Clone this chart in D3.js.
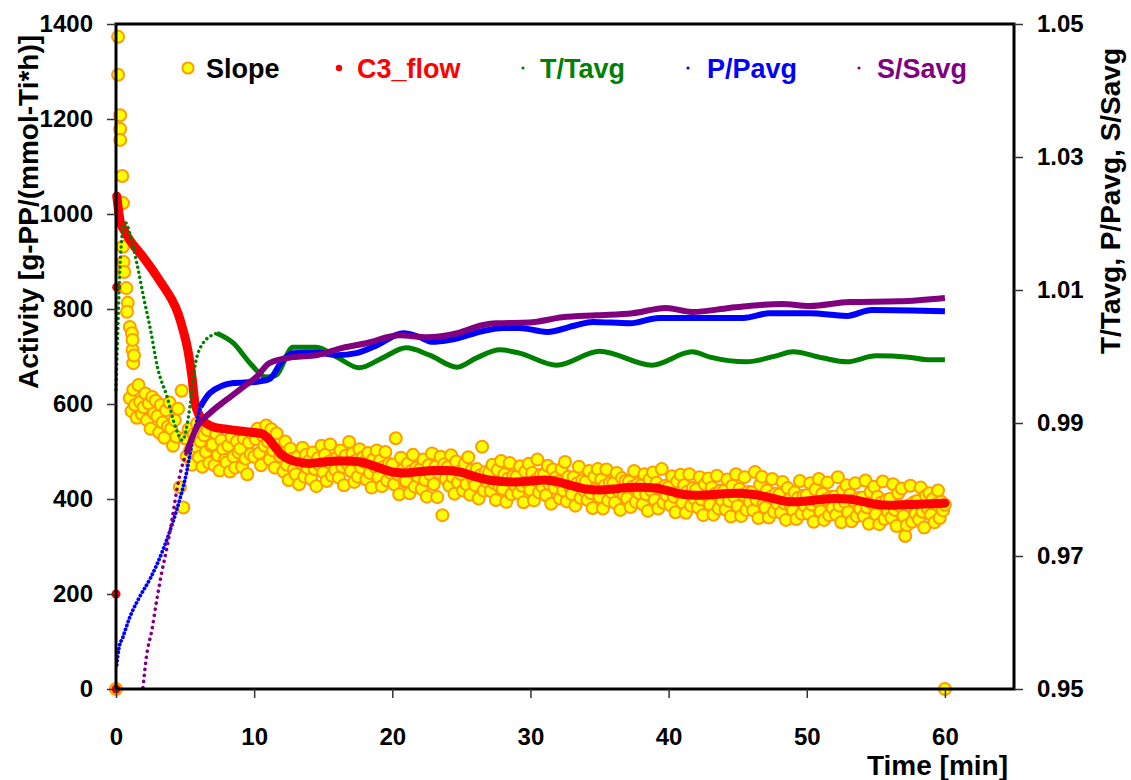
<!DOCTYPE html>
<html>
<head>
<meta charset="utf-8">
<script src="https://cdn.jsdelivr.net/npm/d3@7"></script>
<style>
body { margin: 0; background: #fff; }
text { font-family: "Liberation Sans", Arial, sans-serif; font-weight: bold; }
</style>
</head>
<body>
<div id="chart"></div>
<script>
// tick values
var timeTicks = [0, 10, 20, 30, 40, 50, 60];
var activityTicks = [0, 200, 400, 600, 800, 1000, 1200, 1400];
var ratioTicks = [0.95, 0.97, 0.99, 1.01, 1.03, 1.05];

// Slope: first scattered readings (time, activity)
var slopeEarlyT = [0, 0.15, 0.15, 0.3, 0.3, 0.3, 0.45, 0.5, 0.5, 0.55, 0.6, 0.75, 0.85, 0.8, 1.0, 1.15, 1.2, 1.25, 1.2, 1.3, 60];
var slopeEarlyV = [0, 1373, 1293, 1208, 1179, 1156, 1080, 1023, 931, 899, 878, 844, 813, 794, 762, 749, 714, 686, 735, 702, 0];

// Slope: regular readings from 1 min, every 0.125 min (one row = one minute)
var slopeStart = 1;
var slopeStep = 0.125;
var slopeValues = [
  612,585,630,598,571,640,604,579,
  593,622,566,601,548,615,580,607,
  574,540,598,561,529,587,552,603,
  548,512,566,531,590,425,628,382,
  528,490,547,503,472,536,511,559,
  488,521,468,534,499,545,476,512,
  515,471,538,492,460,523,505,482,
  477,512,458,530,489,466,521,498,
  506,468,527,485,452,519,494,537,
  489,526,548,497,471,533,512,555,
  521,483,547,502,466,538,514,490,
  497,458,521,472,440,506,485,462,
  452,489,431,476,508,447,493,465,
  481,442,498,463,427,486,471,512,
  456,493,438,478,515,449,484,461,
  487,445,502,468,429,491,474,520,
  459,496,436,481,447,505,466,488,
  478,441,497,455,424,484,468,502,
  446,481,427,468,499,439,474,455,
  472,431,528,452,410,487,461,437,
  438,475,412,459,493,426,466,447,
  462,421,483,440,405,471,452,496,
  431,468,404,455,489,366,473,442,
  467,428,492,446,411,479,435,458,
  452,418,474,431,488,409,461,440,
  429,463,401,450,510,418,457,436,
  455,417,472,433,398,461,426,480,
  421,452,394,443,476,410,448,429,
  447,412,469,428,393,458,435,474,
  419,455,397,440,483,414,451,426,
  452,408,470,431,390,462,423,446,
  437,401,463,418,478,395,447,425,
  410,446,386,433,468,402,439,418,
  436,398,459,412,381,447,420,463,
  405,441,380,428,462,397,434,414,
  433,392,455,417,377,444,409,438,
  401,437,383,426,459,394,431,412,
  428,389,452,410,375,441,418,456,
  398,434,380,421,463,392,428,407,
  425,387,448,405,372,437,413,451,
  392,429,371,416,452,386,423,401,
  420,382,446,399,366,431,408,443,
  388,424,367,411,449,380,418,397,
  417,378,441,396,363,428,405,452,
  385,421,364,409,446,377,415,394,
  414,376,457,398,360,430,447,389,
  382,418,361,404,442,373,411,390,
  409,371,436,391,356,423,400,384,
  376,414,358,402,438,369,407,385,
  408,369,433,388,352,420,396,442,
  374,411,356,399,435,366,404,381,
  405,367,446,386,351,418,394,429,
  372,409,353,397,433,364,402,379,
  403,364,439,382,348,415,390,426,
  368,405,347,392,437,358,398,374,
  400,361,431,377,343,412,385,422,
  364,322,345,387,428,352,393,369,
  396,357,424,373,340,407,381,412,
  367,400,351,389,418,360,394,376,
  388
];

// C3_flow: stray first readings, then the main trace
var c3StrayT = [0, 0, 0.05];
var c3StrayV = [0, 200, 846];
var c3T = [0.05, 0.15, 0.3, 0.6, 1.0, 1.5, 2.0, 2.5, 3.0, 3.5, 4.0, 4.5, 4.85, 5.2, 5.5, 5.7, 6.0, 6.5, 7.0, 8.0, 9.0, 10.0, 10.6, 11.0, 11.5, 12.0, 12.5, 13.0, 14.0, 15.0, 16.0, 17.0, 18.0, 19.0, 20.0, 21.0, 22.0, 23.0, 24.0, 25.0, 26.0, 27.0, 28.0, 29.0, 30.0, 31.0, 32.0, 33.0, 34.0, 35.0, 36.0, 37.0, 38.0, 39.0, 40.0, 41.0, 42.0, 43.0, 44.0, 45.0, 46.0, 47.0, 48.0, 49.0, 50.0, 51.0, 52.0, 53.0, 54.0, 55.0, 56.0, 57.0, 58.0, 59.0, 60.0];
var c3V = [1038, 1015, 985, 965, 945, 926, 908, 888, 867, 845, 822, 790, 756, 714, 657, 605, 578, 560, 552, 547, 543, 540, 537, 528, 510, 493, 484, 479, 475, 478, 480, 480, 476, 466, 457, 455, 458, 460, 460, 456, 447, 440, 437, 436, 438, 440, 436, 428, 421, 419, 421, 424, 425, 423, 417, 410, 408, 409, 411, 412, 410, 405, 398, 394, 396, 399, 401, 400, 395, 389, 387, 388, 389, 390, 391];

// T/Tavg (right axis)
var tempT = [0.0, 0.15, 0.3, 0.5, 0.7, 1.0, 1.5, 2.0, 2.5, 3.0, 3.7, 4.3, 4.8, 5.35, 5.7, 6.3, 7.3, 8.5, 9.7, 10.9, 11.6, 12.8, 14.5, 16.0, 17.6, 19.3, 21.0, 22.7, 24.7, 26.1, 27.8, 29.2, 31.9, 35.0, 38.8, 41.7, 43.0, 45.6, 47.8, 49.0, 51.1, 52.9, 55.0, 57.4, 58.9, 60.0];
var tempV = [0.9950, 1.0050, 1.0140, 1.0190, 1.0201, 1.0185, 1.0141, 1.0089, 1.0040, 0.9984, 0.9939, 0.9894, 0.9874, 0.9924, 0.9984, 1.0020, 1.0035, 1.0020, 0.9990, 0.9969, 0.9972, 1.0014, 1.0014, 0.9999, 0.9983, 0.9998, 1.0013, 1.0002, 0.9984, 0.9998, 1.0010, 1.0005, 0.9987, 1.0008, 0.9987, 1.0007, 0.9999, 0.9992, 1.0001, 1.0007, 0.9998, 0.9992, 1.0001, 0.9999, 0.9995, 0.9995];

// P/Pavg (right axis)
var presT = [0.05, 0.2, 0.5, 1.0, 1.7, 2.5, 3.4, 4.1, 4.6, 5.1, 5.5, 6.1, 6.8, 8.5, 10.2, 11.1, 12.1, 12.8, 14.5, 16.0, 17.4, 18.9, 20.8, 22.0, 22.9, 24.2, 26.5, 28.0, 29.2, 31.2, 33.3, 34.5, 37.2, 39.3, 42.2, 45.4, 47.3, 50.2, 52.9, 54.7, 60.0];
var presV = [0.9536, 0.9560, 0.9578, 0.9608, 0.9638, 0.9667, 0.9709, 0.9750, 0.9784, 0.9825, 0.9870, 0.9924, 0.9945, 0.9960, 0.9962, 0.9966, 0.9995, 1.0005, 1.0006, 1.0002, 1.0005, 1.0017, 1.0035, 1.0029, 1.0022, 1.0025, 1.0038, 1.0043, 1.0043, 1.0037, 1.0047, 1.0052, 1.0050, 1.0058, 1.0058, 1.0058, 1.0065, 1.0065, 1.0061, 1.0070, 1.0068];

// S/Savg (right axis)
var stirT = [1.95, 2.2, 2.6, 2.95, 3.3, 3.7, 4.05, 4.4, 4.85, 5.1, 5.85, 6.8, 8.0, 9.2, 10.2, 11.1, 12.8, 14.5, 16.4, 18.1, 20.5, 22.5, 24.7, 26.5, 27.5, 29.9, 32.3, 34.8, 37.4, 39.8, 41.7, 44.4, 45.8, 48.2, 50.2, 53.1, 56.7, 60.0];
var stirV = [0.9502, 0.9548, 0.9589, 0.9634, 0.9674, 0.9714, 0.9754, 0.9799, 0.9840, 0.9855, 0.9894, 0.9915, 0.9935, 0.9954, 0.9970, 0.9990, 0.9999, 1.0002, 1.0013, 1.0020, 1.0032, 1.0029, 1.0035, 1.0047, 1.0050, 1.0051, 1.0059, 1.0062, 1.0065, 1.0073, 1.0067, 1.0073, 1.0076, 1.0079, 1.0076, 1.0082, 1.0083, 1.0088];

// ---- drawing ----
var W = 1131, H = 780;
var svg = d3.select("#chart").append("svg")
    .attr("width", W)
    .attr("height", H);

var x = d3.scaleLinear().domain([0, 65]).range([116, 1014]);
var yL = d3.scaleLinear().domain([0, 1400]).range([689, 24]);
var yR = d3.scaleLinear().domain([0.95, 1.05]).range([689, 24]);

function zip(ts, vs) {
    return ts.map(function (t, i) { return { t: t, v: vs[i] }; });
}

// slope scatter
var slopePts = zip(slopeEarlyT, slopeEarlyV).concat(slopeValues.map(function (v, i) {
    return { t: slopeStart + i * slopeStep, v: v };
}));

svg.append("g").selectAll("circle")
    .data(slopePts)
    .enter().append("circle")
    .attr("cx", function (d) { return x(d.t); })
    .attr("cy", function (d) { return yL(d.v); })
    .attr("r", 6)
    .attr("fill", "#ffff00")
    .attr("stroke", "#ff9c00")
    .attr("stroke-width", 2);

// C3_flow
var leftLine = d3.line()
    .x(function (d) { return x(d.t); })
    .y(function (d) { return yL(d.v); })
    .curve(d3.curveMonotoneX);

svg.append("path")
    .datum(zip(c3T, c3V))
    .attr("d", leftLine)
    .attr("fill", "none")
    .attr("stroke", "#ff0000")
    .attr("stroke-width", 9)
    .attr("stroke-linecap", "round")
    .attr("stroke-linejoin", "round");

svg.append("g").selectAll("circle")
    .data(zip(c3StrayT, c3StrayV))
    .enter().append("circle")
    .attr("cx", function (d) { return x(d.t); })
    .attr("cy", function (d) { return yL(d.v); })
    .attr("r", 4.5)
    .attr("fill", "#ff0000");

// ratio series: dotted where the samples spread out, solid afterwards
var rightLine = d3.line()
    .x(function (d) { return x(d.t); })
    .y(function (d) { return yR(d.v); })
    .curve(d3.curveMonotoneX);

var ratioSeries = [
    { pts: zip(tempT, tempV), color: "#008000", split: 7.3, width: 5, dot: 3.4, gap: 5 },
    { pts: zip(presT, presV), color: "#0000ff", split: 6.1, width: 6, dot: 3.8, gap: 4 },
    { pts: zip(stirT, stirV), color: "#800080", split: 5.1, width: 6, dot: 3.6, gap: 6 }
];

ratioSeries.forEach(function (s) {
    var early = s.pts.filter(function (d) { return d.t <= s.split; });
    var late = s.pts.filter(function (d) { return d.t >= s.split; });
    svg.append("path")
        .datum(early)
        .attr("d", rightLine)
        .attr("fill", "none")
        .attr("stroke", s.color)
        .attr("stroke-width", s.dot)
        .attr("stroke-linecap", "round")
        .attr("stroke-dasharray", "0.1," + s.gap);
    svg.append("path")
        .datum(late)
        .attr("d", rightLine)
        .attr("fill", "none")
        .attr("stroke", s.color)
        .attr("stroke-width", s.width)
        .attr("stroke-linejoin", "round");
});

// frame and axes
svg.append("rect")
    .attr("x", 116).attr("y", 24)
    .attr("width", 1014 - 116).attr("height", 689 - 24)
    .attr("fill", "none")
    .attr("stroke", "#000")
    .attr("stroke-width", 3);

var gx = svg.append("g")
    .attr("transform", "translate(0,689)")
    .call(d3.axisBottom(x).tickValues(timeTicks).tickSize(9).tickPadding(30));
var gl = svg.append("g")
    .attr("transform", "translate(116,0)")
    .call(d3.axisLeft(yL).tickValues(activityTicks).tickSize(9).tickPadding(14)
        .tickFormat(d3.format("d")));
var gr = svg.append("g")
    .attr("transform", "translate(1014,0)")
    .call(d3.axisRight(yR).tickValues(ratioTicks).tickSize(9).tickPadding(14)
        .tickFormat(d3.format(".2f")));

[gx, gl, gr].forEach(function (g) {
    g.select(".domain").remove();
    g.selectAll(".tick line").attr("stroke", "#333").attr("stroke-width", 1.5);
    g.selectAll(".tick text")
        .attr("fill", "#000")
        .style("font-size", "24px")
        .style("font-family", "'Liberation Sans', Arial, sans-serif")
        .style("font-weight", "bold");
});

// axis titles
svg.append("text")
    .attr("transform", "translate(38,212) rotate(-90)")
    .attr("text-anchor", "middle")
    .style("font-size", "28px")
    .text("Activity [g-PP/(mmol-Ti*h)]");

svg.append("text")
    .attr("transform", "translate(1120,201) rotate(-90)")
    .attr("text-anchor", "middle")
    .style("font-size", "28px")
    .text("T/Tavg, P/Pavg, S/Savg");

svg.append("text")
    .attr("x", 1008).attr("y", 775)
    .attr("text-anchor", "end")
    .style("font-size", "28px")
    .text("Time [min]");

// legend
var legend = [
    { name: "Slope", color: "#000", mx: 188, tx: 206, r: 5.6, fill: "#ffff00", stroke: "#ff9c00" },
    { name: "C3_flow", color: "#ff0000", mx: 339, tx: 357, r: 3.2, fill: "#ff0000", stroke: "none" },
    { name: "T/Tavg", color: "#008000", mx: 523, tx: 540, r: 1.6, fill: "#008000", stroke: "none" },
    { name: "P/Pavg", color: "#0000ff", mx: 688, tx: 707, r: 1.6, fill: "#0000ff", stroke: "none" },
    { name: "S/Savg", color: "#800080", mx: 859, tx: 877, r: 1.6, fill: "#800080", stroke: "none" }
];

var lg = svg.append("g").selectAll("g")
    .data(legend)
    .enter().append("g");

lg.append("circle")
    .attr("cx", function (d) { return d.mx; })
    .attr("cy", 68)
    .attr("r", function (d) { return d.r; })
    .attr("fill", function (d) { return d.fill; })
    .attr("stroke", function (d) { return d.stroke; })
    .attr("stroke-width", 2);

lg.append("text")
    .attr("x", function (d) { return d.tx; })
    .attr("y", 78)
    .attr("fill", function (d) { return d.color; })
    .style("font-size", "27px")
    .text(function (d) { return d.name; });
</script>
</body>
</html>
